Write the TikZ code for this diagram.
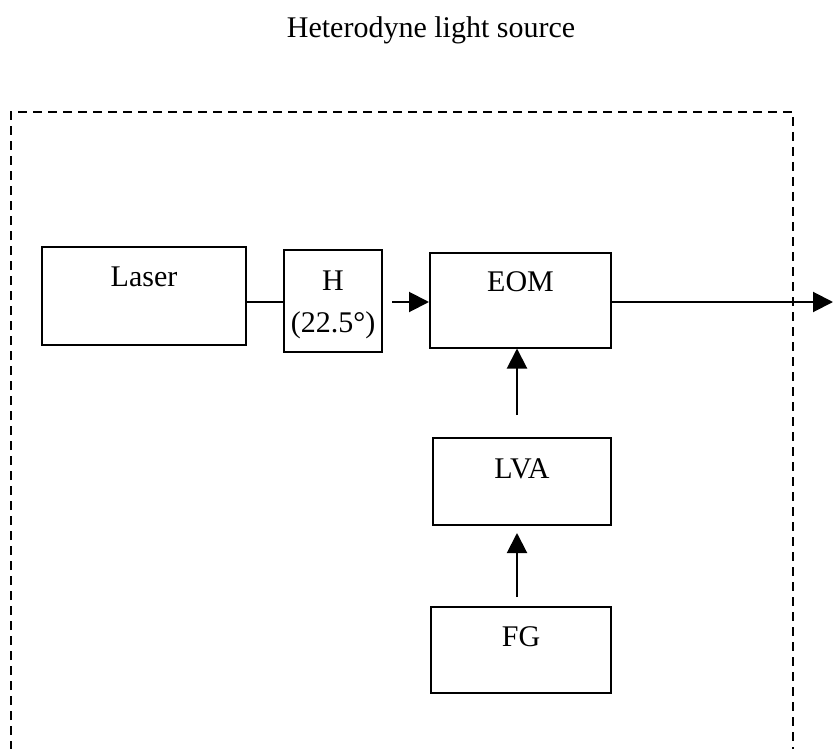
\documentclass[tikz,border=0pt]{standalone}
\usepackage{fontspec}
\setmainfont{Liberation Serif}
\usetikzlibrary{arrows.meta}
\begin{document}
\begin{tikzpicture}[x=1pt,y=-1pt,
  box/.style={draw, line width=2pt, inner sep=0pt, minimum width=#1},
  lbl/.style={font=\fontsize{30}{36}\selectfont, inner sep=0pt},
  arr/.style={line width=2pt, -{Triangle[length=20pt,width=20pt]}},
  plain/.style={line width=2pt},
  frame/.style={line width=2pt, dash pattern=on 9pt off 6pt}]
\clip (0,0) rectangle (833,749);
\node[lbl] (title) at (431,30) {Heterodyne light source};
\draw[frame] (11,780) -- (11,112) -- (793,112) -- (793,780);
% boxes
\node[box=204, minimum height=98] (laser) at (144,296) {};
\node[lbl] (laserT) at ([yshift=-31]laser.north) {Laser};
\node[box=98, minimum height=102] (h) at (333,301) {};
\node[lbl, align=center] (hT) at (333,305) {H\\[6pt](22.5°)};
\node[box=181, minimum height=95] (eom) at (520.5,300) {};
\node[lbl] (eomT) at ([yshift=-30]eom.north) {EOM};
\node[box=178, minimum height=87] (lva) at (522,481.5) {};
\node[lbl] (lvaT) at ([yshift=-32]lva.north) {LVA};
\node[box=180, minimum height=86] (fg) at (521,650) {};
\node[lbl] (fgT) at ([yshift=-31]fg.north) {FG};
\coordinate (out) at (833,302);
\coordinate (hA) at (392,302);
\coordinate (lvaA) at (517,415);
\coordinate (fgA) at (517,597);
% connectors
\draw[plain] (laser.east |- 0,302) -- (h.west |- 0,302);
\draw[arr] (hA) -- (eom.west |- hA);
\draw[arr] (eom.east |- out) -- (out);
\draw[arr] (lvaA) -- (lvaA |- eom.south);
\draw[arr] (fgA) -- (fgA |- 0,533);
\end{tikzpicture}
\end{document}
